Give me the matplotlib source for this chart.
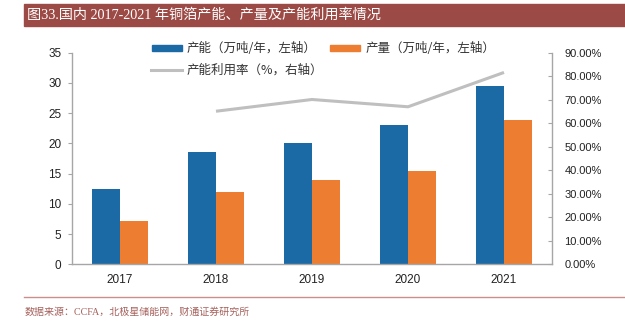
import matplotlib
matplotlib.use("Agg")
import matplotlib.pyplot as plt
from matplotlib.patches import Rectangle
from matplotlib.lines import Line2D
from matplotlib.ticker import FuncFormatter
import numpy as np

plt.rcParams['font.family'] = ['Liberation Sans', 'Noto Sans CJK SC']

years = ["2017", "2018", "2019", "2020", "2021"]
capacity = [12.5, 18.5, 20.0, 23.1, 29.5]      # 产能 万吨/年
output = [7.1, 11.9, 13.9, 15.4, 23.8]         # 产量 万吨/年
util_years = ["2018", "2019", "2020", "2021"]
utilization = [0.651, 0.701, 0.670, 0.816]     # 产能利用率

title = "图33.国内 2017-2021 年铜箔产能、产量及产能利用率情况"
source = "数据来源：CCFA，北极星储能网，财通证券研究所"
legend_labels = ["产能（万吨/年，左轴）", "产量（万吨/年，左轴）", "产能利用率（%，右轴）"]

blue = "#1B69A5"
orange = "#ED7D31"
gray = "#BFBFBF"
red = "#9C4A45"
axis_gray = "#A6A6A6"
cjk_serif = ['Liberation Serif', 'Noto Sans CJK SC']
cjk = ['Noto Sans CJK SC', 'Liberation Sans']

fig = plt.figure(figsize=(6.25, 3.21), dpi=100)
W, H = 625, 321
ax = fig.add_axes([72 / W, 1 - 264.3 / H, 480 / W, (264.3 - 52.7) / H])

x = np.arange(len(years))
bw = 0.29
ax.bar(x - bw / 2, capacity, bw, color=blue, zorder=2)
ax.bar(x + bw / 2, output, bw, color=orange, zorder=2)
ax.set_xlim(-0.5, len(years) - 0.5)
ax.set_ylim(0, 35)
ax.set_yticks(range(0, 36, 5))
ax.set_xticks(x)
ax.set_xticklabels(years)

ax2 = ax.twinx()
ux = [years.index(y) for y in util_years]
ax2.plot(ux, utilization, color=gray, lw=2.2, solid_capstyle='butt')
ax2.set_ylim(0, 0.9)
ax2.set_yticks(np.arange(0, 0.91, 0.1))
ax2.yaxis.set_major_formatter(FuncFormatter(lambda v, p: f"{v * 100:.2f}%"))

for a in (ax, ax2):
    a.spines['top'].set_visible(False)
    for s in ('left', 'right', 'bottom'):
        a.spines[s].set_color(axis_gray)
        a.spines[s].set_linewidth(1.0)
ax.spines['right'].set_visible(False)
ax2.spines['left'].set_visible(False)
ax2.spines['bottom'].set_visible(False)

ax.tick_params(axis='y', direction='out', length=3, color=axis_gray, pad=4.5,
               labelsize=8.5, labelcolor='#222222')
ax.tick_params(axis='x', length=0, pad=7, labelsize=8.5, labelcolor='#222222')
ax2.tick_params(axis='y', direction='in', length=3, color=axis_gray, pad=9,
                labelsize=8, labelcolor='#222222')

# legend drawn in figure pixels
def fx(px):
    return px / W

def fy(py):
    return 1 - py / H

fig.add_artist(Rectangle((fx(152), fy(51)), 30 / W, 6 / H, color=blue,
                         transform=fig.transFigure))
fig.add_artist(Rectangle((fx(330), fy(51)), 30 / W, 6 / H, color=orange,
                         transform=fig.transFigure))
fig.add_artist(Line2D([fx(151), fx(182)], [fy(70), fy(70)], color=gray, lw=2.2,
                      transform=fig.transFigure))
fig.text(fx(187), fy(48), legend_labels[0], family=cjk, fontsize=9,
         color='#333333', va='center')
fig.text(fx(366), fy(48), legend_labels[1], family=cjk, fontsize=9,
         color='#333333', va='center')
fig.text(fx(187), fy(70), legend_labels[2], family=cjk, fontsize=9,
         color='#333333', va='center')

# title bar
fig.add_artist(Rectangle((fx(24), fy(26)), 1 - fx(24), 22 / H, color=red,
                         transform=fig.transFigure))
fig.text(fx(27), fy(15), title, family=cjk_serif, fontsize=10.2, color='white',
         va='center')

# source line
fig.add_artist(Line2D([fx(24), 1], [fy(296.5), fy(296.5)], color='#C98F8A',
                      lw=1.0, transform=fig.transFigure))
fig.text(fx(25), fy(312), source, family=cjk_serif, fontsize=7.2,
         color='#A5615C', va='center')

fig.savefig("out.png", dpi=100)
